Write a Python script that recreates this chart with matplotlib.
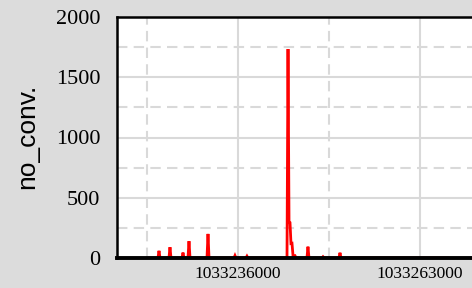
import matplotlib
matplotlib.use("Agg")
import matplotlib.pyplot as plt
from matplotlib.ticker import FixedLocator, FixedFormatter

# Data: timestamps (epoch seconds) and counts
times = [1033222900, 1033224130, 1033224280, 1033224430, 1033225760, 1033225910, 1033226060,
         1033227690, 1033227840, 1033227990, 1033228580, 1033228730, 1033228880,
         1033231400, 1033231550, 1033231700, 1033235400, 1033235550, 1033235700,
         1033237180, 1033237330, 1033237480, 1033243270, 1033243420, 1033243570,
         1033243710, 1033243860, 1033244010, 1033244160, 1033244450, 1033244600,
         1033246230, 1033246380, 1033246530, 1033248460, 1033248610, 1033248760,
         1033250980, 1033251130, 1033251280, 1033267150]
values = [0, 0, 60, 0, 0, 90, 0,
          0, 45, 0, 0, 140, 0,
          0, 200, 0, 0, 20, 0,
          0, 15, 0, 0, 1734, 290,
          300, 120, 122, 20, 20, 0,
          0, 94, 0, 0, 10, 0,
          0, 44, 0, 0]

y_ticks = [0, 500, 1000, 1500, 2000]
y_minor = [250, 750, 1250, 1750]
x_ticks = [1033236000, 1033263000]
x_minor = [1033222500, 1033249500]
x_labels = ["1033236000", "1033263000"]
y_label = "no_conv."

W, H = 472, 288
fig = plt.figure(figsize=(W / 100, H / 100), dpi=100, facecolor="#dcdcdc")
left, right, top, bottom = 117, 560, 17, 258
ax = fig.add_axes([left / W, 1 - bottom / H, (right - left) / W, (bottom - top) / H])
ax.set_facecolor("white")

ax.plot(times, values, color="#ff0000", lw=2.0, solid_joinstyle="miter", zorder=3)

x0 = 1033236000 + (left - 238) * 27000 / 182
x1 = 1033236000 + (right - 238) * 27000 / 182
ax.set_xlim(x0, x1)
ax.set_ylim(0, 2000)

ax.xaxis.set_major_locator(FixedLocator(x_ticks))
ax.xaxis.set_major_formatter(FixedFormatter(x_labels))
ax.xaxis.set_minor_locator(FixedLocator(x_minor))
ax.yaxis.set_major_locator(FixedLocator(y_ticks))
ax.yaxis.set_minor_locator(FixedLocator(y_minor))

ax.grid(True, which="major", color="#d9d9d9", lw=1.5, ls="-", zorder=0)
ax.grid(True, which="minor", color="#d9d9d9", lw=1.5, ls=(0, (5, 3)), zorder=0)
ax.set_axisbelow(True)

ax.tick_params(which="both", length=0)
ax.tick_params(axis="y", pad=12, labelsize=16)
ax.tick_params(axis="x", pad=6, labelsize=12.5)
for lab in ax.get_xticklabels() + ax.get_yticklabels():
    lab.set_fontfamily("Liberation Serif")

for s in ["left", "top"]:
    ax.spines[s].set_color("black")
    ax.spines[s].set_linewidth(1.8)
    ax.spines[s].set_zorder(4)
ax.spines["bottom"].set_color("black")
ax.spines["bottom"].set_linewidth(2.8)
ax.spines["bottom"].set_zorder(4)
ax.spines["right"].set_visible(False)

fig.text(27 / W, 1 - 136 / H, y_label, rotation=90, ha="center", va="center",
         fontsize=19, fontfamily="Liberation Sans")

fig.savefig("out.png", dpi=100, facecolor=fig.get_facecolor())
